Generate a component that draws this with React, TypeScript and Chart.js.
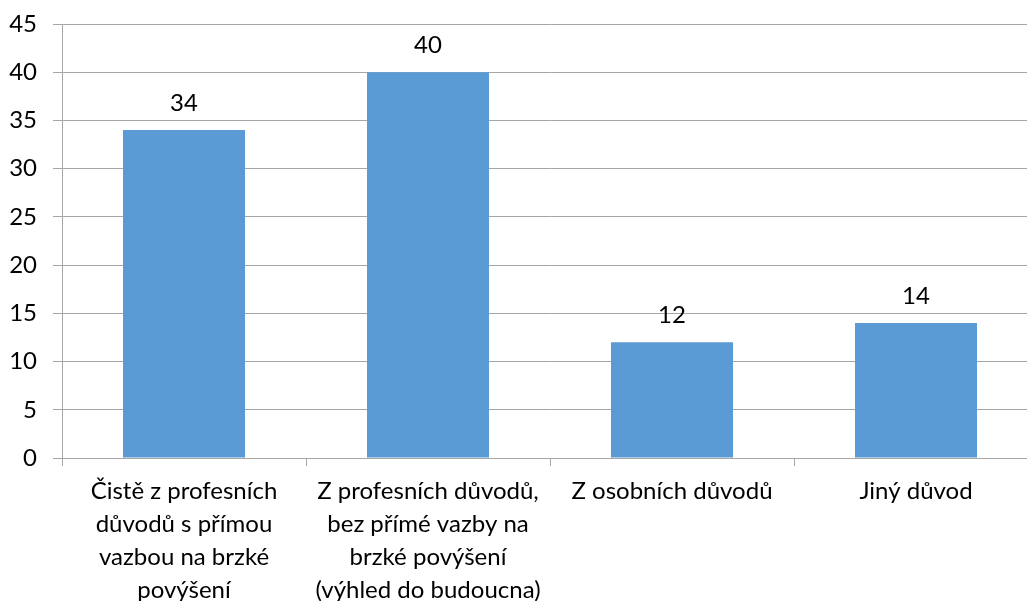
import React, { useEffect, useRef } from "react";
import { Chart, registerables } from "chart.js";

Chart.register(...registerables);

const categories: string[][] = [
  ["Čistě z profesních", "důvodů s přímou", "vazbou na brzké", "povýšení"],
  ["Z profesních důvodů,", "bez přímé vazby na", "brzké povýšení", "(výhled do budoucna)"],
  ["Z osobních důvodů"],
  ["Jiný důvod"],
];
const values: number[] = [34, 40, 12, 14];
const yMin = 0;
const yMax = 45;
const yStep = 5;

const FONT = "Lato, 'Open Sans', sans-serif";

const valueLabels = {
  id: "valueLabels",
  afterDatasetsDraw(chart: any) {
    const ctx = chart.ctx;
    const meta = chart.getDatasetMeta(0);
    ctx.save();
    ctx.font = `24px ${FONT}`;
    ctx.fillStyle = "#000000";
    ctx.textAlign = "center";
    ctx.textBaseline = "middle";
    meta.data.forEach((el: any, i: number) => {
      ctx.fillText(String(values[i]), el.x, el.y - 27);
    });
    ctx.restore();
  },
};

export default function App() {
  const ref = useRef<HTMLCanvasElement | null>(null);
  useEffect(() => {
    if (!ref.current) return;
    const chart = new Chart(ref.current, {
      type: "bar",
      data: {
        labels: categories as any,
        datasets: [
          {
            data: values,
            backgroundColor: "#5B9BD5",
            borderWidth: 0,
            barPercentage: 0.5,
            categoryPercentage: 1,
          },
        ],
      },
      options: {
        animation: false,
        responsive: false,
        maintainAspectRatio: false,
        layout: { padding: { top: 24, right: 22, bottom: 0, left: 0 } },
        plugins: {
          legend: { display: false },
          tooltip: { enabled: false },
        },
        scales: {
          x: {
            offset: true,
            grid: {
              offset: true,
              drawOnChartArea: false,
              drawTicks: true,
              tickLength: 8,
              color: "#A6A6A6",
              lineWidth: 1,
            },
            border: { display: true, color: "#A6A6A6", width: 1 },
            ticks: {
              color: "#000000",
              font: { family: FONT, size: 24, lineHeight: 1.37 },
              padding: 9,
              maxRotation: 0,
              autoSkip: false,
            },
            afterFit(scale: any) {
              scale.height = 143;
              scale.paddingLeft = 0;
              scale.paddingRight = 0;
            },
          },
          y: {
            min: yMin,
            max: yMax,
            grid: {
              color: "#A6A6A6",
              lineWidth: 1,
              tickLength: 9,
              drawTicks: true,
            },
            border: { display: true, color: "#A6A6A6", width: 1 },
            ticks: {
              stepSize: yStep,
              color: "#000000",
              font: { family: FONT, size: 24 },
              padding: 16,
            },
            afterFit(scale: any) {
              scale.width = 62;
              scale.paddingTop = 0;
              scale.paddingBottom = 0;
            },
          },
        },
      },
      plugins: [valueLabels],
    });
    return () => chart.destroy();
  }, []);
  return (
    <div
      style={{
        position: "fixed",
        left: 0,
        top: 0,
        width: 1027,
        height: 601,
        overflow: "hidden",
        background: "#ffffff",
      }}
    >
      <canvas ref={ref} width={1060} height={601} style={{ display: "block", width: 1060, height: 601 }} />
    </div>
  );
}
